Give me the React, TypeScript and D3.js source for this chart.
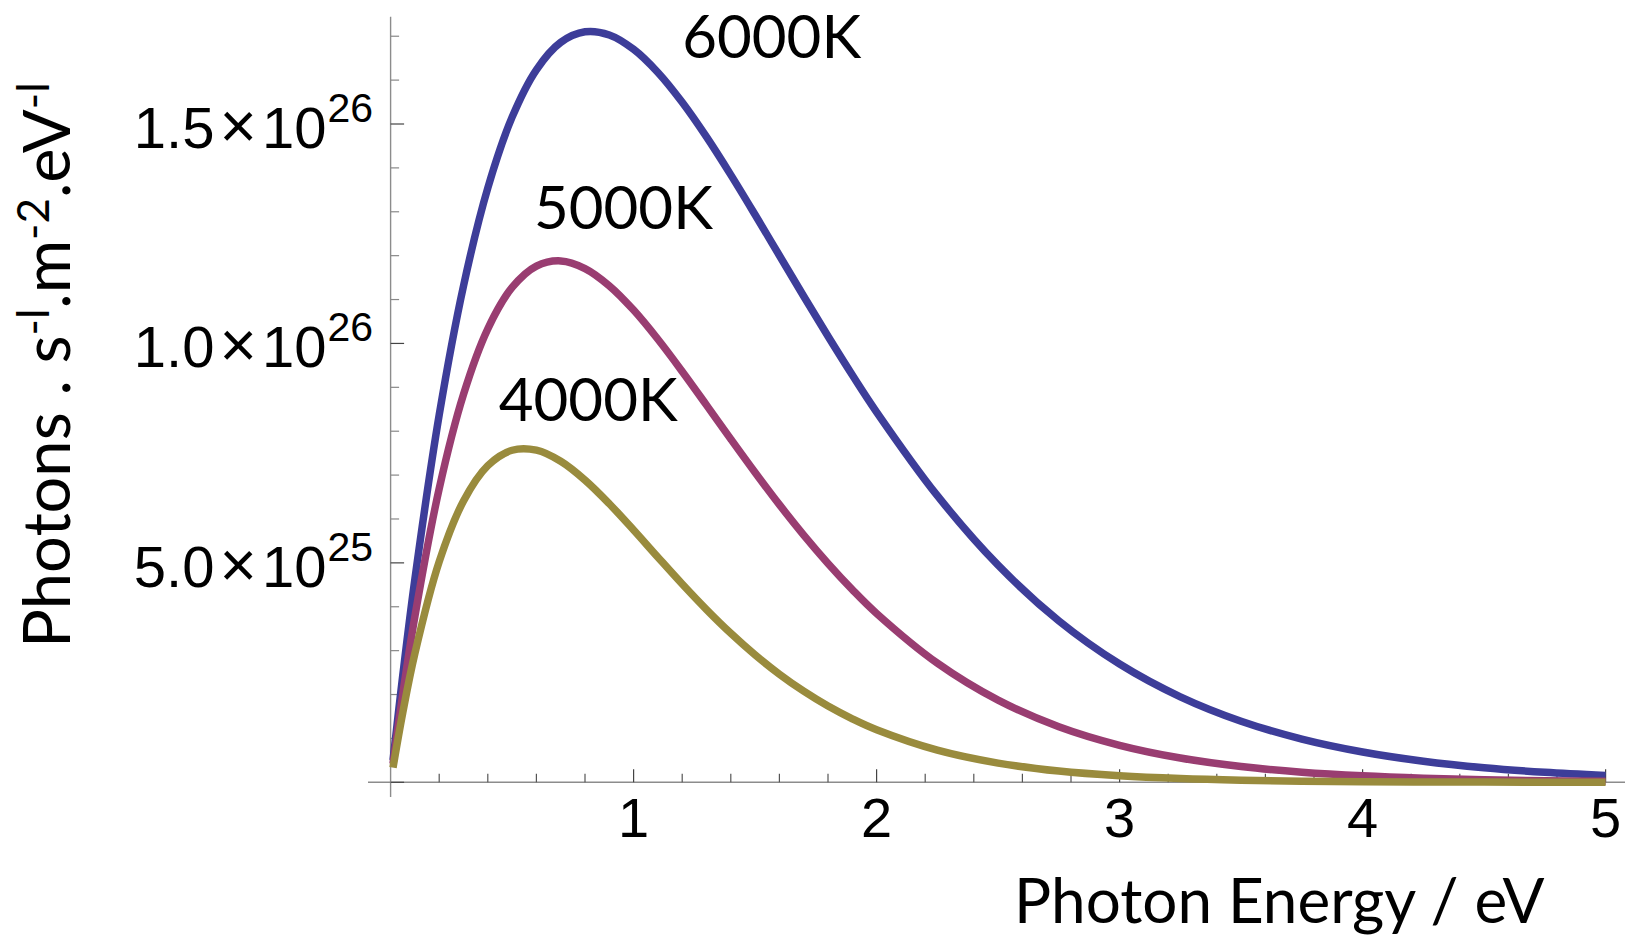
import React from "react";
import * as d3 from "d3";

// Photon flux spectra of black bodies, in units of 10^25 photons s^-1 m^-2 eV^-1
const energies = [0.01, 0.05, 0.1, 0.2, 0.3, 0.4, 0.5, 0.6, 0.7, 0.8, 0.9, 1.0, 1.1, 1.2, 1.3, 1.4, 1.5, 1.6, 1.7, 1.8, 1.9, 2.0, 2.25, 2.5, 2.75, 3.0, 3.25, 3.5, 3.75, 4.0, 4.25, 4.5, 4.75, 5.0];
const flux6000 = [0.506, 2.433, 4.632, 8.37, 11.31, 13.543, 15.156, 16.236, 16.86, 17.101, 17.028, 16.701, 16.173, 15.494, 14.705, 13.841, 12.932, 12.004, 11.076, 10.164, 9.281, 8.437, 6.531, 4.947, 3.679, 2.695, 1.948, 1.392, 0.985, 0.691, 0.481, 0.332, 0.228, 0.156];
const flux5000 = [0.421, 2.008, 3.783, 6.692, 8.839, 10.333, 11.275, 11.762, 11.88, 11.707, 11.314, 10.76, 10.095, 9.362, 8.595, 7.82, 7.059, 6.326, 5.633, 4.987, 4.391, 3.848, 2.715, 1.872, 1.266, 0.843, 0.553, 0.359, 0.231, 0.147, 0.093, 0.058, 0.036, 0.023];
const flux4000 = [0.336, 1.583, 2.936, 5.027, 6.41, 7.216, 7.566, 7.568, 7.315, 6.886, 6.347, 5.748, 5.128, 4.517, 3.935, 3.394, 2.902, 2.463, 2.075, 1.737, 1.446, 1.198, 0.733, 0.438, 0.256, 0.148, 0.084, 0.047, 0.026, 0.014, 0.008, 0.004, 0.002, 0.001];

const seriesNames = ["6000K", "5000K", "4000K"];
const seriesColors = ["#3d3d99", "#993d71", "#998b3d"];

const xTickValues = [1, 2, 3, 4, 5];
const xTickLabels = ["1", "2", "3", "4", "5"];
const yTickValues = [5, 10, 15];
const yTickMantissas = ["5.0", "1.0", "1.5"];
const yTickExponents = ["25", "26", "26"];

// label anchors in data units (energy, flux)
const labelAnchors: [number, number][] = [
  [1.2, 16.5],
  [0.59, 12.6],
  [0.445, 8.24],
];

const W = 1625;
const H = 937;

const x = d3.scaleLinear().domain([0, 5]).range([390.6, 1605.6]);
const y = d3.scaleLinear().domain([0, 17.445]).range([782.3, 16.7]);

const line = d3
  .line<[number, number]>()
  .x((d) => x(d[0]))
  .y((d) => y(d[1]))
  .curve(d3.curveCatmullRom.alpha(0.5));

const tickFont = "'Liberation Sans', Arial, Helvetica, sans-serif";
const labelFont = "Lato, 'Open Sans', sans-serif";

export default function App() {
  const series = [flux6000, flux5000, flux4000].map((vals) =>
    energies.map((e, i) => [e, vals[i]] as [number, number])
  );

  const xMinor = d3.range(1, 26).map((i) => i * 0.2);
  const yMinor = d3.range(0, 18);

  return (
    <svg
      width={W}
      height={H}
      viewBox={`0 0 ${W} ${H}`}
      style={{ position: "absolute", left: 0, top: 0, display: "block", background: "#fff" }}
    >
      {/* axes */}
      <line x1={368} x2={W} y1={y(0)} y2={y(0)} stroke="#8c8c8c" strokeWidth={1.4} />
      <line x1={x(0)} x2={x(0)} y1={16.7} y2={797} stroke="#8c8c8c" strokeWidth={1.4} />

      {/* x ticks */}
      {xMinor.map((v, i) => {
        const major = Math.abs(v - Math.round(v)) < 1e-6;
        return (
          <line
            key={"xt" + i}
            x1={x(v)}
            x2={x(v)}
            y1={y(0)}
            y2={y(0) - (major ? 13 : 8.5)}
            stroke={major ? "#444" : "#555"}
            strokeWidth={1.2}
          />
        );
      })}

      {/* y ticks */}
      {yMinor.map((v) => {
        const major = v % 5 === 0;
        return (
          <line
            key={"yt" + v}
            x1={x(0)}
            x2={x(0) + (major ? 13.5 : 8.5)}
            y1={y(v)}
            y2={y(v)}
            stroke={major ? "#444" : "#888"}
            strokeWidth={1.2}
          />
        );
      })}

      {/* x tick labels */}
      {xTickValues.map((v, i) => (
        <text
          key={"xl" + i}
          x={x(v)}
          y={837}
          textAnchor="middle"
          fontFamily={tickFont}
          fontSize={56}
          fill="#000"
        >
          {xTickLabels[i]}
        </text>
      ))}

      {/* y tick labels */}
      {yTickValues.map((v, i) => (
        <text
          key={"yl" + i}
          x={373}
          y={y(v) + 24}
          textAnchor="end"
          fontFamily={tickFont}
          fontSize={58}
          fill="#000"
        >
          <tspan>{yTickMantissas[i]}</tspan>
          <tspan dx={5} fontSize={64}>×</tspan>
          <tspan dx={5}>10</tspan>
          <tspan dx={1} dy={-26} fontSize={41}>
            {yTickExponents[i]}
          </tspan>
        </text>
      ))}

      {/* curves */}
      {series.map((pts, i) => (
        <path
          key={"s" + i}
          d={line(pts) || ""}
          fill="none"
          stroke={seriesColors[i]}
          strokeWidth={7.5}
          strokeLinejoin="round"
          strokeLinecap="butt"
        />
      ))}

      {/* curve labels */}
      {seriesNames.map((name, i) => (
        <text
          key={"n" + i}
          x={x(labelAnchors[i][0])}
          y={y(labelAnchors[i][1])}
          fontFamily={labelFont}
          fontSize={60}
          fill="#000"
        >
          {name}
        </text>
      ))}

      {/* axis titles */}
      <text x={1014} y={923} fontFamily={labelFont} fontSize={62} fill="#000">
        Photon Energy / eV
      </text>
      <text
        transform="translate(70,648) rotate(-90)"
        fontFamily={labelFont}
        fontSize={65}
        fill="#000"
      >
        <tspan>Photons . s</tspan>
        <tspan dy={-21} fontSize={44}>-l</tspan>
        <tspan dy={21}>.m</tspan>
        <tspan dy={-21} fontSize={44}>-2</tspan>
        <tspan dy={21}>.eV</tspan>
        <tspan dy={-21} fontSize={44}>-l</tspan>
      </text>
    </svg>
  );
}
